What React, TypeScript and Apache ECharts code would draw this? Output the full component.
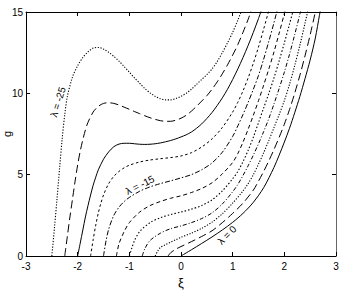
import React, { useEffect, useRef } from "react";
import * as echarts from "echarts";

const FONT = "'Liberation Sans', Arial, Helvetica, sans-serif";

const lambdas = [-25, -22.5, -20, -17.5, -15, -12.5, -10, -7.5, -5, -2.5, 0];

const xTicks = [-3, -2, -1, 0, 1, 2, 3];
const yTicks = [0, 5, 10, 15];

const curveM25 = [
  [-2.5, 0], [-2.45, 1.7], [-2.4, 3.5], [-2.35, 5.4], [-2.3, 7.2], [-2.25, 8.7], [-2.2, 9.8],
  [-2.1, 11.0], [-2.0, 11.7], [-1.9, 12.2], [-1.8, 12.55], [-1.7, 12.78], [-1.6, 12.82],
  [-1.5, 12.72], [-1.4, 12.52], [-1.3, 12.27], [-1.2, 11.98], [-1.1, 11.65], [-1.0, 11.3],
  [-0.9, 10.95], [-0.8, 10.62], [-0.7, 10.3], [-0.6, 10.03], [-0.5, 9.82], [-0.4, 9.67],
  [-0.3, 9.6], [-0.2, 9.6], [-0.1, 9.68], [0, 9.82], [0.1, 10.0], [0.2, 10.25], [0.3, 10.55],
  [0.4, 10.85], [0.5, 11.15], [0.6, 11.5], [0.7, 11.95], [0.8, 12.5], [0.9, 13.1], [1.0, 13.75],
  [1.1, 14.5], [1.18, 15.15],
];

const curveM225 = [
  [-2.25, 0], [-2.2, 1.2], [-2.15, 2.4], [-2.1, 3.5], [-2.05, 4.6], [-2.0, 5.6], [-1.95, 6.45],
  [-1.9, 7.15], [-1.85, 7.75], [-1.8, 8.22], [-1.7, 8.85], [-1.6, 9.2], [-1.5, 9.38], [-1.4, 9.42],
  [-1.3, 9.38], [-1.2, 9.28], [-1.1, 9.15], [-1.0, 9.02], [-0.9, 8.88], [-0.8, 8.75], [-0.7, 8.62],
  [-0.6, 8.5], [-0.5, 8.4], [-0.4, 8.32], [-0.3, 8.28], [-0.2, 8.28], [-0.1, 8.35], [0, 8.47],
  [0.1, 8.65], [0.2, 8.9], [0.3, 9.2], [0.4, 9.52], [0.5, 9.85], [0.6, 10.25], [0.7, 10.7],
  [0.8, 11.2], [0.9, 11.75], [1.0, 12.35], [1.1, 13.0], [1.2, 13.75], [1.3, 14.55], [1.36, 15.1],
];

const curveM20 = [
  [-2, 0], [-1.95, 0.8], [-1.9, 1.6], [-1.85, 2.4], [-1.8, 3.1], [-1.75, 3.75], [-1.7, 4.35],
  [-1.65, 4.85], [-1.6, 5.3], [-1.5, 5.95], [-1.4, 6.4], [-1.3, 6.72], [-1.2, 6.88], [-1.1, 6.93],
  [-1.0, 6.93], [-0.9, 6.9], [-0.8, 6.87], [-0.7, 6.86], [-0.6, 6.87], [-0.5, 6.9], [-0.4, 6.95],
  [-0.3, 7.02], [-0.2, 7.1], [-0.1, 7.2], [0, 7.32], [0.1, 7.45], [0.2, 7.62], [0.3, 7.85],
  [0.4, 8.12], [0.5, 8.45], [0.6, 8.82], [0.7, 9.25], [0.8, 9.72], [0.9, 10.25], [1.0, 10.85],
  [1.1, 11.5], [1.2, 12.2], [1.3, 12.95], [1.4, 13.75], [1.5, 14.6], [1.56, 15.15],
];

const curveM175 = [
  [-1.75, 0], [-1.7, 1.0], [-1.65, 1.9], [-1.6, 2.65], [-1.55, 3.25], [-1.5, 3.75], [-1.4, 4.45],
  [-1.3, 4.9], [-1.2, 5.2], [-1.1, 5.42], [-1.0, 5.58], [-0.8, 5.78], [-0.6, 5.9], [-0.4, 5.98],
  [-0.2, 6.05], [0, 6.15], [0.2, 6.35], [0.4, 6.7], [0.6, 7.2], [0.8, 7.9], [1.0, 8.85],
  [1.1, 9.45], [1.2, 10.15], [1.3, 10.95], [1.4, 11.85], [1.5, 12.85], [1.6, 13.95], [1.7, 15.1],
];

const curveM15 = [
  [-1.5, 0], [-1.45, 0.95], [-1.4, 1.65], [-1.3, 2.5], [-1.2, 3.0], [-1.1, 3.35], [-1.0, 3.6],
  [-0.8, 3.98], [-0.6, 4.25], [-0.4, 4.45], [-0.2, 4.62], [0, 4.8], [0.2, 5.0], [0.4, 5.3],
  [0.6, 5.72], [0.8, 6.38], [1.0, 7.35], [1.1, 8.0], [1.2, 8.7], [1.3, 9.45], [1.4, 10.25],
  [1.5, 11.1], [1.6, 12.1], [1.7, 13.2], [1.8, 14.35], [1.87, 15.2],
];

const curveM125 = [
  [-1.25, 0], [-1.2, 0.75], [-1.1, 1.5], [-1.0, 2.05], [-0.8, 2.7], [-0.6, 3.1], [-0.4, 3.35],
  [-0.2, 3.55], [0, 3.7], [0.2, 3.9], [0.4, 4.15], [0.6, 4.5], [0.8, 5.05], [1.0, 5.75],
  [1.1, 6.3], [1.2, 7.0], [1.3, 7.8], [1.4, 8.65], [1.5, 9.55], [1.6, 10.5], [1.7, 11.5],
  [1.8, 12.55], [1.9, 13.7], [2.0, 14.9], [2.03, 15.3],
];

const curveM10 = [
  [-1, 0], [-0.95, 0.5], [-0.9, 0.95], [-0.8, 1.5], [-0.6, 2.05], [-0.4, 2.35], [-0.2, 2.55],
  [0, 2.7], [0.2, 2.88], [0.4, 3.1], [0.6, 3.45], [0.8, 4.0], [1.0, 4.75], [1.1, 5.2],
  [1.2, 5.8], [1.3, 6.5], [1.4, 7.3], [1.5, 8.2], [1.6, 9.1], [1.7, 10.0], [1.8, 10.95],
  [1.9, 12.0], [2.0, 13.1], [2.1, 14.25], [2.18, 15.2],
];

const curveM75 = [
  [-0.75, 0], [-0.7, 0.45], [-0.6, 0.95], [-0.4, 1.4], [-0.2, 1.68], [0, 1.85], [0.2, 2.05],
  [0.4, 2.3], [0.6, 2.65], [0.8, 3.2], [1.0, 3.95], [1.1, 4.4], [1.2, 4.95], [1.3, 5.55],
  [1.4, 6.2], [1.5, 6.9], [1.6, 7.65], [1.7, 8.45], [1.8, 9.35], [1.9, 10.3], [2.0, 11.3],
  [2.1, 12.4], [2.2, 13.6], [2.3, 14.85], [2.32, 15.1],
];

const curveM5 = [
  [-0.5, 0], [-0.45, 0.3], [-0.4, 0.52], [-0.3, 0.7], [-0.2, 0.85], [-0.1, 1.0], [0, 1.15],
  [0.2, 1.4], [0.4, 1.7], [0.6, 2.08], [0.8, 2.6], [1.0, 3.25], [1.2, 4.0], [1.3, 4.45],
  [1.4, 5.0], [1.5, 5.65], [1.6, 6.35], [1.7, 7.1], [1.8, 7.9], [1.9, 8.7], [2.0, 9.55],
  [2.1, 10.55], [2.2, 11.7], [2.3, 12.95], [2.4, 14.3], [2.46, 15.15],
];

const curveM25b = [
  [-0.25, 0], [-0.2, 0.2], [-0.1, 0.42], [0, 0.58], [0.2, 0.88], [0.4, 1.2], [0.6, 1.55],
  [0.8, 2.05], [1.0, 2.62], [1.2, 3.25], [1.4, 4.05], [1.5, 4.6], [1.6, 5.2], [1.7, 5.85],
  [1.8, 6.55], [1.9, 7.3], [2.0, 8.1], [2.1, 9.0], [2.2, 10.0], [2.3, 11.1], [2.4, 12.3],
  [2.5, 13.6], [2.6, 15.0], [2.62, 15.3],
];

const curve0 = [
  [0, 0], [0.2, 0.38], [0.4, 0.77], [0.6, 1.17], [0.8, 1.6], [1.0, 2.07], [1.2, 2.62],
  [1.4, 3.3], [1.6, 4.2], [1.8, 5.45], [1.9, 6.2], [2.0, 7.0], [2.1, 7.85], [2.2, 8.8],
  [2.3, 9.8], [2.4, 10.9], [2.5, 12.05], [2.6, 13.4], [2.68, 14.8], [2.71, 15.3],
];

const curves = [
  curveM25, curveM225, curveM20, curveM175, curveM15, curveM125,
  curveM10, curveM75, curveM5, curveM25b, curve0,
];

const dashes: any[] = [
  [1.2, 1.6], [8, 4], "solid", [2.5, 2.5], [5, 2, 1.5, 2], [4, 3],
  [1.5, 2], [4, 2, 1, 2], [1.2, 1.6], [8, 4], "solid",
];

const widths = [1.1, 1, 1, 1, 1, 1, 1.1, 1, 1.1, 1, 1];

const curveLabels = ["λ = -25", "λ = -15", "λ = 0"];

export default function App() {
  const ref = useRef<HTMLDivElement>(null);
  useEffect(() => {
    if (!ref.current) return;
    const chart = echarts.init(ref.current, null, { renderer: "svg" });
    const axisLine = { show: true, onZero: false, lineStyle: { color: "#000", width: 1 } };
    const tick = { show: true, inside: true, length: 4, lineStyle: { color: "#000", width: 1 } };
    const label = { color: "#000", fontSize: 10, fontFamily: FONT };
    chart.setOption({
      animation: false,
      grid: {
        left: 26, right: 4, top: 12, bottom: 34, show: false,
        containLabel: false, outerBoundsMode: "none",
      },
      xAxis: [
        {
          type: "value", min: xTicks[0], max: xTicks[xTicks.length - 1], interval: 1,
          position: "bottom", name: "ξ", nameLocation: "middle", nameGap: 18,
          nameTextStyle: { color: "#000", fontSize: 13, fontFamily: FONT },
          axisLine, axisTick: tick, axisLabel: { ...label, margin: 5 }, splitLine: { show: false },
        },
        {
          type: "value", min: xTicks[0], max: xTicks[xTicks.length - 1], interval: 1,
          position: "top", axisLine, axisTick: tick, axisLabel: { show: false }, splitLine: { show: false },
        },
      ],
      yAxis: [
        {
          type: "value", min: yTicks[0], max: yTicks[yTicks.length - 1], interval: 5,
          position: "left", name: "g", nameLocation: "middle", nameGap: 14, nameRotate: 90,
          nameMoveOverlap: false,
          nameTextStyle: { color: "#000", fontSize: 11, fontFamily: FONT },
          axisLine, axisTick: tick, axisLabel: { ...label, margin: 3 }, splitLine: { show: false },
        },
        {
          type: "value", min: yTicks[0], max: yTicks[yTicks.length - 1], interval: 5,
          position: "right", axisLine: { ...axisLine, lineStyle: { color: "#666", width: 1 } },
          axisTick: tick, axisLabel: { show: false }, splitLine: { show: false },
        },
      ],
      series: curves.map((c, i) => ({
        type: "line",
        name: "λ=" + lambdas[i],
        data: c,
        xAxisIndex: 0,
        yAxisIndex: 0,
        showSymbol: false,
        symbol: "none",
        smooth: 0.3,
        clip: true,
        silent: true,
        lineStyle: { color: "#000", width: widths[i], type: dashes[i] },
      })),
      graphic: [
        {
          type: "text", x: 58, y: 102, rotation: (73 * Math.PI) / 180,
          style: { text: curveLabels[0], fill: "#000", fontSize: 10, fontFamily: FONT, align: "center", verticalAlign: "middle" },
        },
        {
          type: "text", x: 140, y: 185, rotation: (27 * Math.PI) / 180,
          style: { text: curveLabels[1], fill: "#000", fontSize: 10, fontFamily: FONT, align: "center", verticalAlign: "middle" },
        },
        {
          type: "text", x: 227, y: 235, rotation: (45 * Math.PI) / 180,
          style: { text: curveLabels[2], fill: "#000", fontSize: 10, fontFamily: FONT, align: "center", verticalAlign: "middle" },
        },
      ],
    });
    return () => chart.dispose();
  }, []);
  return (
    <div
      ref={ref}
      style={{ position: "fixed", left: 0, top: 0, width: 340, height: 290, background: "#fff" }}
    />
  );
}
